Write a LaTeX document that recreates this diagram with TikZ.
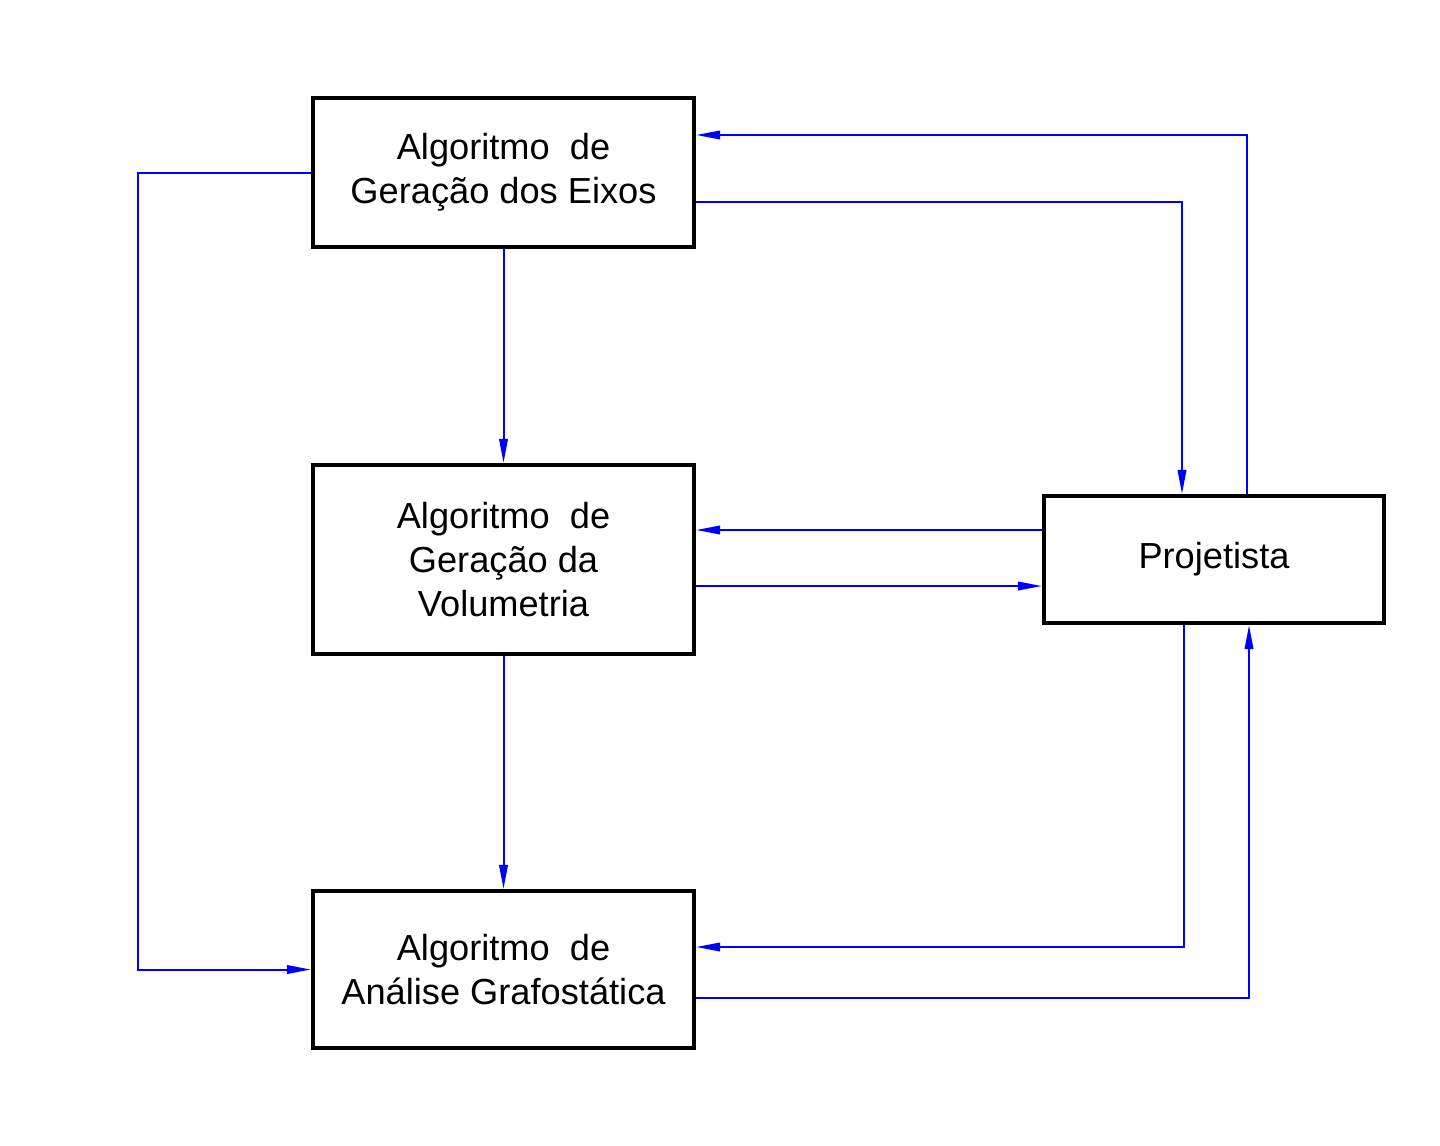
\documentclass[tikz,border=0pt]{standalone}
\usepackage{fontspec}
\setmainfont{Liberation Sans}
\usepackage{xcolor}
\usetikzlibrary{arrows.meta}
\definecolor{AzulFluxo}{RGB}{0, 0, 255}
\definecolor{Preto}{RGB}{0, 0, 0}
\tikzset{
  caixa/.style={draw=Preto, line width=0.04cm, align=center, minimum width=3.81cm,
    font=\fontsize{10.3}{12.5}\selectfont},
  fluxo/.style={draw=AzulFluxo, line width=0.02cm, -{Triangle[length=0.24cm,width=0.085cm]}}
}
\begin{document}
\begin{tikzpicture}[x=0.01cm, y=-0.01cm]
            \useasboundingbox (0,0) rectangle (1440,1145);
            %Algoritmos
            \node[caixa, minimum height=1.49cm] (A) at (503.5,172.5) {Algoritmo\ \ de\\Geração dos Eixos};
            \node[caixa, minimum height=1.89cm] (B) at (503.5,559.5) {Algoritmo\ \ de\\Geração da\\Volumetria};
            \node[caixa, minimum height=1.57cm] (C) at (503.5,969.5) {Algoritmo\ \ de\\Análise Grafostática};
            \node[caixa, minimum width=3.40cm, minimum height=1.27cm] (P) at (1214,559.5) {Projetista};
            %Fluxos
            \draw[fluxo] (A) -- (B);
            \draw[fluxo] (B) -- (C);
            \draw[fluxo] ([xshift=0.33cm]P.north) |- ([yshift=0.375cm]A.east);
            \draw[fluxo] ([yshift=-0.295cm]A.east) -| ([xshift=-0.32cm]P.north);
            \draw[fluxo] ([yshift=0.295cm]P.west) -- ([yshift=0.295cm]B.east);
            \draw[fluxo] ([yshift=-0.265cm]B.east) -- ([yshift=-0.265cm]P.west);
            \draw[fluxo] ([xshift=-0.30cm]P.south) |- ([yshift=0.225cm]C.east);
            \draw[fluxo] ([yshift=-0.285cm]C.east) -| ([xshift=0.35cm]P.south);
            \draw[fluxo] (A.west) -- ++(-173,0) |- (C.west);
        \end{tikzpicture}
\end{document}
